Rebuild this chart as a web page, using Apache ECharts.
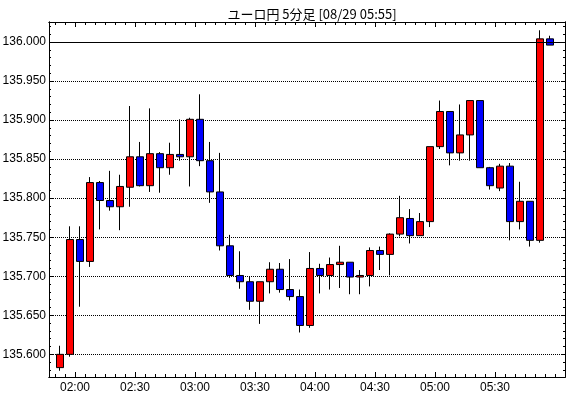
<!DOCTYPE html>
<html>
<head>
<meta charset="utf-8">
<script src="https://cdn.jsdelivr.net/npm/echarts@6/dist/echarts.min.js"></script>
<style>
html, body { margin: 0; padding: 0; background: #fff; }
#chart { width: 570px; height: 398px; }
</style>
</head>
<body>
<div id="chart"></div>
<script>
// 5分足の時刻
var times = ['01:50', '01:55', '02:00', '02:05', '02:10', '02:15', '02:20', '02:25', '02:30', '02:35',
    '02:40', '02:45', '02:50', '02:55', '03:00', '03:05', '03:10', '03:15', '03:20', '03:25',
    '03:30', '03:35', '03:40', '03:45', '03:50', '03:55', '04:00', '04:05', '04:10', '04:15',
    '04:20', '04:25', '04:30', '04:35', '04:40', '04:45', '04:50', '04:55', '05:00', '05:05',
    '05:10', '05:15', '05:20', '05:25', '05:30', '05:35', '05:40', '05:45', '05:50', '05:55'];
var opens = [135.583, 135.600, 135.747, 135.719, 135.820, 135.797, 135.789, 135.814, 135.853, 135.816,
    135.857, 135.839, 135.856, 135.853, 135.901, 135.848, 135.808, 135.739, 135.701, 135.693,
    135.668, 135.693, 135.709, 135.683, 135.674, 135.637, 135.710, 135.701, 135.715, 135.718,
    135.699, 135.701, 135.733, 135.728, 135.754, 135.774, 135.752, 135.770, 135.866, 135.911,
    135.858, 135.881, 135.925, 135.839, 135.813, 135.841, 135.770, 135.796, 135.746, 136.004];
var closes = [135.600, 135.747, 135.719, 135.820, 135.797, 135.789, 135.815, 135.853, 135.816, 135.857,
    135.839, 135.856, 135.853, 135.901, 135.848, 135.808, 135.739, 135.701, 135.693, 135.668,
    135.693, 135.709, 135.683, 135.674, 135.637, 135.710, 135.701, 135.715, 135.718, 135.699,
    135.701, 135.733, 135.728, 135.754, 135.775, 135.752, 135.770, 135.866, 135.911, 135.858,
    135.881, 135.925, 135.839, 135.816, 135.841, 135.770, 135.796, 135.746, 136.004, 135.996];
var lows = [135.579, 135.597, 135.661, 135.712, 135.760, 135.784, 135.759, 135.789, 135.815, 135.808,
    135.807, 135.830, 135.848, 135.815, 135.841, 135.794, 135.733, 135.698, 135.684, 135.657,
    135.639, 135.678, 135.679, 135.669, 135.628, 135.634, 135.678, 135.683, 135.685, 135.677,
    135.677, 135.687, 135.708, 135.701, 135.751, 135.742, 135.752, 135.763, 135.863, 135.842,
    135.848, 135.848, 135.839, 135.811, 135.809, 135.746, 135.760, 135.738, 135.743, 135.996];
var highs = [135.611, 135.764, 135.764, 135.827, 135.822, 135.835, 135.830, 135.918, 135.872, 135.915,
    135.859, 135.871, 135.901, 135.903, 135.933, 135.872, 135.858, 135.753, 135.732, 135.699,
    135.693, 135.718, 135.717, 135.722, 135.683, 135.731, 135.716, 135.724, 135.739, 135.718,
    135.708, 135.737, 135.738, 135.755, 135.803, 135.786, 135.781, 135.866, 135.925, 135.911,
    135.920, 135.925, 135.925, 135.840, 135.844, 135.845, 135.821, 135.796, 136.015, 136.008];
var lastLine = 136.004;

var yLabels = [135.600, 135.650, 135.700, 135.750, 135.800, 135.850, 135.900, 135.950, 136.000];
var xLabels = ['02:00', '02:30', '03:00', '03:30', '04:00', '04:30', '05:00', '05:30'];

function toMin(t) {
    var p = t.split(':');
    return Number(p[0]) * 60 + Number(p[1]);
}
function toTime(m) {
    var h = Math.floor(m / 60), mm = m % 60;
    return (h < 10 ? '0' : '') + h + ':' + (mm < 10 ? '0' : '') + mm;
}

var xMin = toMin('01:47'), xMax = toMin('06:05');
var yMin = 135.571, yMax = 136.0256;

var xMajor = xLabels.map(toMin);
var xMinor = [];
for (var m = toMin('01:50'); m <= xMax; m += 5) xMinor.push(m);
var yMinor = [];
for (var k = 135580; k <= 136020; k += 10) yMinor.push(k / 1000);

var data = times.map(function (t, i) {
    return [toMin(t) + 2.5, opens[i], closes[i], lows[i], highs[i]];
});

var myChart = echarts.init(document.getElementById('chart'));
var font = 'Liberation Sans';
var blk = { color: '#000', width: 1 };

function xAxisOf(pos, values, len, label) {
    return {
        type: 'value', position: pos, min: xMin, max: xMax,
        axisLine: { show: true, lineStyle: blk },
        axisTick: { show: true, inside: true, length: len, lineStyle: blk, customValues: values },
        axisLabel: label ? {
            show: true, customValues: values, color: '#000', fontFamily: font, fontSize: 12, margin: 5,
            formatter: function (v) { return toTime(v); }
        } : { show: false },
        splitLine: { show: false }
    };
}
function yAxisOf(pos, values, len, label, grid) {
    return {
        type: 'value', position: pos, min: yMin, max: yMax,
        axisLine: { show: true, lineStyle: blk },
        axisTick: { show: true, inside: true, length: len, lineStyle: blk, customValues: values },
        axisLabel: label ? {
            show: true, customValues: values, color: '#000', fontFamily: font, fontSize: 12, margin: 3,
            formatter: function (v) { return v.toFixed(3); }
        } : { show: false },
        splitLine: grid ? { show: true, lineStyle: { color: '#000', width: 1, type: [1, 1] } } : { show: false }
    };
}

var option = {
    backgroundColor: '#fff',
    animation: false,
    title: {
        text: 'ユーロ円 5分足 [08/29 05:55]',
        left: 307, textAlign: 'center', top: 3,
        textStyle: { fontFamily: 'Noto Sans CJK JP', fontSize: 13, fontWeight: 'normal', color: '#000' }
    },
    grid: { left: 49, right: 5, top: 22, bottom: 21, containLabel: false, outerBoundsMode: 'none' },
    xAxis: [
        xAxisOf('bottom', xMajor, 5, true),
        xAxisOf('bottom', xMinor, 3, false),
        xAxisOf('top', xMajor, 5, false),
        xAxisOf('top', xMinor, 3, false)
    ],
    yAxis: [
        yAxisOf('left', yLabels, 4, true, true),
        yAxisOf('left', yMinor, 2, false, false),
        yAxisOf('right', yLabels, 4, false, false),
        yAxisOf('right', yMinor, 2, false, false)
    ],
    series: [{
        type: 'candlestick',
        xAxisIndex: 0, yAxisIndex: 0,
        barWidth: 7,
        encode: { x: 0, y: [1, 2, 3, 4] },
        itemStyle: {
            color: '#ff0000', color0: '#0000ff',
            borderColor: '#000', borderColor0: '#000', borderWidth: 1
        },
        markLine: {
            silent: true, symbol: 'none', label: { show: false },
            lineStyle: { color: '#000', width: 1, type: 'solid' },
            data: [{ yAxis: lastLine }]
        },
        data: data
    }]
};
myChart.setOption(option);
</script>
</body>
</html>
